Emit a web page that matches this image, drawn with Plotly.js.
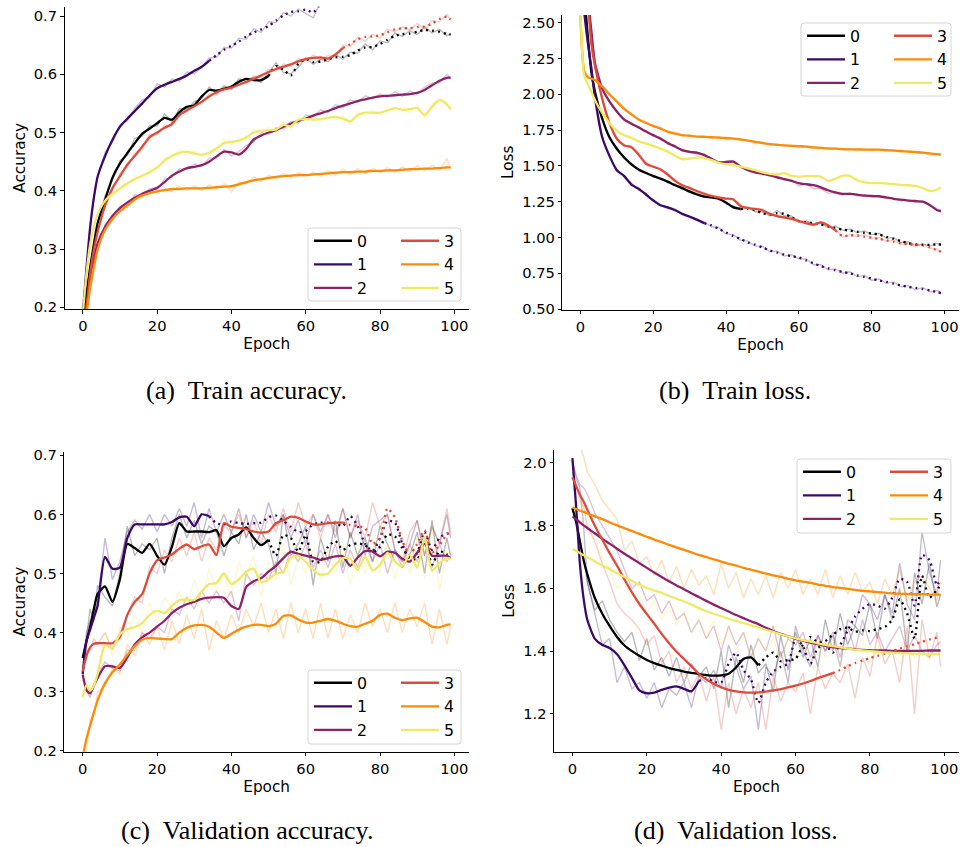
<!DOCTYPE html>
<html><head><meta charset="utf-8">
<script src="https://cdn.plot.ly/plotly-3.0.1.min.js"></script>
<style>html,body{margin:0;padding:0;background:#fff}#chart{width:960px;height:847px}</style>
</head><body><div id="chart"></div>
<script>
// ---------- DATA ----------
const epochs = [0,1,2,3,4,6,8,10,12,14,16,18,20,22,24,26,28,30,32,34,36,38,40,42,44,46,48,50,52,54,56,58,60,62,64,66,68,70,72,74,76,78,80,82,84,86,88,90,92,94,96,98,99];
const runLabels = ['0','1','2','3','4','5'];
const panelCaptions = ['(a)\u00a0\u00a0Train accuracy.','(b)\u00a0\u00a0Train loss.','(c)\u00a0\u00a0Validation accuracy.','(d)\u00a0\u00a0Validation loss.'];
const yTitles = ['Accuracy','Loss','Accuracy','Loss'];
const xTitle = 'Epoch';

// epoch where each run switches from solid to dotted (null = solid throughout)
const dottedFromTrain = [50, 34, null, 70, null, null];
const dottedFromTrainLoss = [44, 34, null, 70, null, null];
const dottedFromVal = [50, 34, null, 70, null, null];

// (a) train accuracy, smoothed
const trainAcc0 = [0.18,0.225,0.27,0.31,0.345, 0.385,0.423,0.447,0.465,0.482,0.498,0.507,0.516,0.525,0.522, 0.535,0.544,0.547,0.562,0.573,0.572,0.575,0.579,0.587,0.592, 0.59,0.59,0.597,0.614,0.608,0.598,0.618,0.626,0.621,0.622, 0.626,0.629,0.63,0.633,0.641,0.646,0.647,0.652,0.659,0.666, 0.669,0.67,0.673,0.676,0.675,0.673,0.669,0.668];
const trainAcc1 = [0.19,0.27,0.34,0.39,0.425, 0.46,0.488,0.51,0.524,0.537,0.55,0.564,0.576,0.582,0.587, 0.592,0.598,0.606,0.613,0.623,0.633,0.642,0.649,0.656,0.665, 0.672,0.677,0.683,0.692,0.701,0.707,0.708,0.711,0.706,0.72, 0.724,0.728,0.733,0.737,0.741,0.745,0.749,0.752,0.756,0.759, 0.762,0.765,0.768,0.771,0.774,0.776,0.779,0.78];
const trainAcc2 = [0.16,0.2,0.255,0.285,0.31, 0.338,0.357,0.37,0.38,0.388,0.395,0.4,0.405,0.415,0.426, 0.433,0.439,0.441,0.444,0.45,0.459,0.467,0.466,0.462,0.472, 0.488,0.495,0.5,0.504,0.51,0.515,0.52,0.524,0.529,0.533, 0.537,0.542,0.546,0.55,0.554,0.557,0.56,0.562,0.563,0.564, 0.565,0.566,0.568,0.573,0.581,0.589,0.594,0.594];
const trainAcc3 = [0.16,0.2,0.26,0.3,0.33, 0.375,0.405,0.425,0.445,0.46,0.476,0.492,0.5,0.508,0.515, 0.53,0.538,0.545,0.553,0.562,0.569,0.574,0.577,0.582,0.587, 0.592,0.598,0.604,0.609,0.613,0.617,0.622,0.626,0.628,0.629, 0.627,0.634,0.645,0.652,0.66,0.664,0.665,0.667,0.672,0.677, 0.679,0.679,0.681,0.682,0.687,0.695,0.699,0.694];
const trainAcc4 = [0.15,0.19,0.235,0.27,0.3, 0.333,0.352,0.365,0.375,0.385,0.392,0.396,0.399,0.401,0.403, 0.403,0.404,0.404,0.404,0.405,0.406,0.407,0.408,0.411,0.415, 0.418,0.42,0.422,0.424,0.425,0.426,0.427,0.427,0.428,0.429, 0.43,0.431,0.432,0.432,0.433,0.433,0.434,0.434,0.435,0.435, 0.436,0.437,0.437,0.438,0.438,0.439,0.44,0.44];
const trainAcc5 = [0.19,0.26,0.31,0.34,0.36, 0.383,0.395,0.404,0.413,0.42,0.426,0.432,0.44,0.452,0.46, 0.465,0.467,0.464,0.462,0.465,0.473,0.482,0.484,0.486,0.492, 0.5,0.503,0.504,0.505,0.513,0.511,0.522,0.523,0.522,0.523, 0.525,0.527,0.524,0.519,0.53,0.534,0.534,0.534,0.538,0.542, 0.539,0.54,0.542,0.53,0.544,0.556,0.548,0.54];
// (a) train accuracy, raw
const trainAccRaw0 = [0.18,0.225,0.27,0.31,0.345, 0.392,0.418,0.452,0.461,0.49,0.494,0.512,0.511,0.532,0.518, 0.541,0.539,0.553,0.558,0.578,0.567,0.58,0.575,0.592,0.588, 0.595,0.586,0.603,0.62,0.603,0.601,0.612,0.628,0.617,0.626, 0.621,0.634,0.626,0.638,0.636,0.652,0.642,0.657,0.654,0.671, 0.665,0.675,0.668,0.681,0.671,0.677,0.666,0.67];
const trainAccRaw1 = [0.19,0.27,0.34,0.39,0.425, 0.466,0.483,0.514,0.52,0.542,0.556,0.56,0.584,0.578,0.592, 0.588,0.604,0.601,0.612,0.628,0.629,0.646,0.645,0.662,0.66, 0.678,0.672,0.69,0.689,0.706,0.7,0.712,0.705,0.697,0.724, 0.72,0.732,0.729,0.741,0.737,0.75,0.746,0.756,0.752,0.763, 0.759,0.769,0.765,0.775,0.771,0.78,0.776,0.78];
const trainAccRaw2 = [0.16,0.2,0.255,0.285,0.31, 0.343,0.353,0.374,0.377,0.393,0.391,0.404,0.402,0.42,0.423, 0.438,0.436,0.446,0.442,0.456,0.456,0.471,0.46,0.467,0.478, 0.484,0.499,0.497,0.508,0.506,0.519,0.516,0.53,0.527,0.539, 0.534,0.548,0.543,0.556,0.552,0.563,0.558,0.566,0.561,0.57, 0.562,0.571,0.566,0.578,0.585,0.585,0.6,0.593];
const trainAccRaw3 = [0.16,0.2,0.26,0.3,0.33, 0.38,0.401,0.43,0.441,0.465,0.472,0.497,0.496,0.513,0.511, 0.534,0.535,0.55,0.549,0.567,0.565,0.578,0.573,0.587,0.584, 0.597,0.594,0.609,0.605,0.618,0.613,0.627,0.623,0.633,0.625, 0.632,0.631,0.65,0.648,0.664,0.657,0.669,0.662,0.677,0.673, 0.682,0.676,0.687,0.678,0.692,0.69,0.703,0.694];
const trainAccRaw4 = [0.15,0.19,0.235,0.27,0.3, 0.338,0.349,0.37,0.372,0.39,0.389,0.401,0.396,0.404,0.399, 0.408,0.4,0.409,0.4,0.41,0.403,0.412,0.398,0.415,0.412, 0.424,0.416,0.427,0.42,0.43,0.423,0.431,0.425,0.432,0.425, 0.435,0.427,0.437,0.428,0.438,0.43,0.439,0.43,0.44,0.432, 0.441,0.433,0.443,0.434,0.444,0.435,0.455,0.437];
const trainAccRaw5 = [0.19,0.26,0.31,0.34,0.36, 0.389,0.391,0.41,0.409,0.426,0.421,0.438,0.434,0.458,0.455, 0.471,0.462,0.469,0.457,0.47,0.468,0.488,0.478,0.492,0.487, 0.506,0.498,0.51,0.5,0.519,0.506,0.528,0.518,0.528,0.518, 0.531,0.522,0.529,0.514,0.536,0.529,0.539,0.529,0.544,0.537, 0.545,0.534,0.548,0.525,0.55,0.551,0.553,0.536];

// (b) train loss, smoothed
const trainLoss0 = [3.3,2.75,2.42,2.16,2.02, 1.83,1.7,1.62,1.56,1.51,1.475,1.45,1.43,1.41,1.39, 1.365,1.345,1.32,1.3,1.285,1.28,1.27,1.245,1.21,1.2, 1.2,1.19,1.17,1.16,1.17,1.165,1.14,1.115,1.105,1.1, 1.09,1.08,1.065,1.055,1.048,1.04,1.032,1.028,1.02,1.005, 0.99,0.975,0.96,0.952,0.948,0.948,0.952,0.95];
const trainLoss1 = [3.3,2.6,2.37,2.19,1.98, 1.7,1.57,1.47,1.43,1.37,1.34,1.3,1.26,1.225,1.21, 1.19,1.165,1.145,1.125,1.1,1.085,1.06,1.035,1.01,0.99, 0.965,0.95,0.93,0.91,0.895,0.88,0.87,0.86,0.84,0.82, 0.8,0.785,0.77,0.76,0.75,0.735,0.725,0.712,0.7,0.69, 0.678,0.665,0.655,0.648,0.64,0.63,0.618,0.612];
const trainLoss2 = [3.6,3.1,2.7,2.45,2.22, 2.04,1.95,1.88,1.825,1.795,1.77,1.74,1.715,1.69,1.66, 1.635,1.61,1.598,1.592,1.575,1.55,1.525,1.528,1.53,1.495, 1.47,1.455,1.445,1.435,1.42,1.408,1.395,1.38,1.372,1.365, 1.35,1.33,1.315,1.305,1.305,1.3,1.292,1.29,1.288,1.28, 1.27,1.265,1.258,1.255,1.25,1.225,1.19,1.185];
const trainLoss3 = [3.8,3.2,2.7,2.36,2.2, 1.97,1.8,1.69,1.645,1.63,1.58,1.515,1.495,1.475,1.44, 1.395,1.365,1.345,1.325,1.305,1.29,1.278,1.272,1.265,1.22, 1.205,1.2,1.19,1.165,1.15,1.14,1.13,1.115,1.1,1.09, 1.105,1.085,1.05,1.01,1.015,1.015,1.005,0.998,0.99,0.98, 0.97,0.96,0.952,0.95,0.945,0.93,0.91,0.9];
const trainLoss4 = [2.55,2.17,2.12,2.11,2.1, 2.055,2.0,1.95,1.9,1.86,1.825,1.8,1.78,1.76,1.74, 1.725,1.715,1.71,1.705,1.703,1.7,1.698,1.695,1.69,1.685, 1.677,1.668,1.66,1.652,1.647,1.643,1.64,1.638,1.634,1.63, 1.626,1.622,1.62,1.617,1.615,1.615,1.614,1.614,1.613,1.61, 1.607,1.604,1.6,1.597,1.592,1.587,1.582,1.578];
const trainLoss5 = [2.6,2.14,2.07,2.02,1.96, 1.87,1.8,1.745,1.715,1.695,1.672,1.655,1.64,1.62,1.6, 1.57,1.548,1.55,1.56,1.555,1.54,1.522,1.512,1.505,1.495, 1.483,1.47,1.455,1.445,1.44,1.45,1.43,1.425,1.428,1.43, 1.425,1.395,1.41,1.432,1.43,1.4,1.385,1.38,1.38,1.378, 1.372,1.368,1.365,1.36,1.345,1.325,1.335,1.35];
// (b) train loss, raw
const trainLossRaw0 = [3.3,2.75,2.42,2.16,2.02, 1.84,1.69,1.63,1.55,1.52,1.465,1.46,1.42,1.42,1.38, 1.375,1.335,1.33,1.31,1.295,1.275,1.28,1.235,1.22,1.19, 1.21,1.18,1.18,1.15,1.19,1.15,1.15,1.105,1.115,1.095, 1.1,1.07,1.08,1.05,1.06,1.035,1.045,1.02,1.03,0.995, 1.0,0.965,0.97,0.945,0.955,0.94,0.96,0.945];
const trainLossRaw1 = [3.3,2.6,2.37,2.19,1.98, 1.71,1.56,1.48,1.42,1.38,1.33,1.31,1.25,1.23,1.2, 1.2,1.16,1.15,1.12,1.11,1.075,1.07,1.025,1.02,0.98, 0.975,0.94,0.94,0.9,0.905,0.87,0.88,0.85,0.85,0.81, 0.81,0.775,0.78,0.75,0.76,0.725,0.735,0.7,0.71,0.68, 0.69,0.655,0.665,0.635,0.65,0.62,0.63,0.61];
const trainLossRaw2 = [3.6,3.1,2.7,2.45,2.22, 2.05,1.94,1.89,1.815,1.805,1.76,1.75,1.705,1.7,1.65, 1.645,1.6,1.605,1.58,1.585,1.545,1.53,1.515,1.535,1.49, 1.48,1.45,1.45,1.425,1.43,1.4,1.4,1.36,1.375,1.34, 1.34,1.31,1.31,1.295,1.31,1.29,1.3,1.28,1.29,1.27, 1.275,1.255,1.262,1.245,1.255,1.22,1.2,1.175];
const trainLossRaw3 = [3.8,3.2,2.7,2.36,2.2, 1.98,1.79,1.7,1.635,1.64,1.57,1.525,1.49,1.485,1.43, 1.405,1.355,1.355,1.32,1.315,1.285,1.29,1.265,1.275,1.21, 1.215,1.195,1.2,1.155,1.16,1.135,1.14,1.105,1.12,1.08, 1.11,1.075,1.06,1.0,1.02,1.005,1.02,0.995,1.0,0.975, 0.98,0.95,0.96,0.935,0.955,0.925,0.92,0.9];
const trainLossRaw4 = [2.55,2.17,2.12,2.11,2.1, 2.06,1.99,1.955,1.89,1.865,1.815,1.81,1.77,1.77,1.73, 1.735,1.705,1.72,1.7,1.71,1.69,1.705,1.685,1.695,1.675, 1.68,1.655,1.665,1.645,1.655,1.635,1.645,1.625,1.64,1.62, 1.63,1.615,1.625,1.61,1.62,1.605,1.62,1.605,1.615,1.6, 1.615,1.595,1.605,1.59,1.595,1.575,1.585,1.575];
const trainLossRaw5 = [2.6,2.14,2.07,2.02,1.96, 1.88,1.79,1.755,1.71,1.705,1.665,1.665,1.63,1.63,1.59, 1.58,1.54,1.555,1.55,1.565,1.53,1.53,1.5,1.51,1.485, 1.49,1.46,1.465,1.435,1.455,1.425,1.43,1.42,1.435,1.415, 1.43,1.39,1.415,1.42,1.435,1.39,1.405,1.375,1.385,1.37, 1.38,1.36,1.37,1.355,1.35,1.32,1.33,1.35];

// (c) validation accuracy, smoothed
const valAcc0 = [0.357,0.385,0.41,0.44,0.465, 0.478,0.452,0.49,0.55,0.543,0.535,0.55,0.53,0.515,0.545, 0.585,0.571,0.571,0.571,0.57,0.573,0.546,0.56,0.566,0.578, 0.56,0.548,0.557,0.53,0.565,0.56,0.537,0.565,0.52,0.52, 0.545,0.555,0.54,0.548,0.551,0.548,0.535,0.545,0.566,0.563, 0.543,0.527,0.523,0.56,0.515,0.538,0.532,0.529];
const valAcc1 = [0.33,0.385,0.405,0.425,0.445, 0.528,0.508,0.51,0.56,0.583,0.583,0.583,0.583,0.583,0.587, 0.595,0.596,0.58,0.6,0.597,0.585,0.583,0.588,0.585,0.584, 0.585,0.586,0.595,0.598,0.589,0.579,0.57,0.572,0.583,0.586, 0.586,0.585,0.58,0.597,0.58,0.55,0.538,0.56,0.589,0.586, 0.55,0.523,0.535,0.57,0.54,0.56,0.568,0.565];
const valAcc2 = [0.329,0.303,0.297,0.31,0.323, 0.343,0.343,0.34,0.358,0.38,0.392,0.4,0.41,0.42,0.433, 0.442,0.448,0.452,0.457,0.459,0.46,0.459,0.445,0.44,0.477, 0.487,0.492,0.503,0.513,0.526,0.537,0.533,0.53,0.527,0.523, 0.526,0.529,0.529,0.513,0.527,0.538,0.537,0.529,0.537,0.535, 0.525,0.52,0.535,0.55,0.53,0.53,0.53,0.526];
const valAcc3 = [0.334,0.36,0.375,0.381,0.382, 0.382,0.382,0.392,0.43,0.452,0.465,0.5,0.522,0.527,0.532, 0.542,0.549,0.541,0.546,0.549,0.531,0.585,0.579,0.577,0.575, 0.571,0.569,0.571,0.585,0.59,0.596,0.594,0.588,0.583,0.583, 0.585,0.586,0.586,0.582,0.58,0.577,0.55,0.56,0.61,0.595, 0.555,0.532,0.55,0.573,0.535,0.548,0.566,0.569];
const valAcc4 = [0.19,0.22,0.243,0.265,0.285, 0.314,0.333,0.346,0.362,0.377,0.388,0.391,0.39,0.389,0.389, 0.4,0.408,0.412,0.413,0.41,0.4,0.391,0.398,0.405,0.41, 0.413,0.413,0.411,0.415,0.428,0.429,0.422,0.417,0.417,0.42, 0.423,0.42,0.415,0.411,0.41,0.415,0.42,0.43,0.432,0.425, 0.421,0.424,0.425,0.418,0.41,0.409,0.413,0.414];
const valAcc5 = [0.291,0.311,0.302,0.31,0.33, 0.378,0.374,0.397,0.406,0.409,0.416,0.43,0.437,0.433,0.445, 0.455,0.456,0.455,0.47,0.482,0.484,0.5,0.482,0.49,0.503, 0.508,0.485,0.49,0.5,0.503,0.527,0.53,0.52,0.506,0.498, 0.5,0.515,0.526,0.525,0.506,0.529,0.505,0.515,0.535,0.52, 0.512,0.532,0.51,0.562,0.505,0.518,0.525,0.526];
// (c) validation accuracy, raw
const valAccRaw0 = [0.357,0.39,0.44,0.42,0.48, 0.46,0.445,0.5,0.58,0.53,0.55,0.54,0.56,0.5,0.56, 0.6,0.56,0.59,0.55,0.58,0.57,0.53,0.57,0.55,0.6, 0.54,0.57,0.55,0.5,0.6,0.53,0.55,0.58,0.48,0.56, 0.52,0.59,0.51,0.57,0.53,0.56,0.52,0.58,0.55,0.52, 0.51,0.53,0.57,0.5,0.59,0.5,0.56,0.53];
const valAccRaw1 = [0.33,0.4,0.42,0.43,0.45, 0.56,0.49,0.52,0.57,0.59,0.575,0.6,0.57,0.6,0.58, 0.61,0.58,0.62,0.56,0.61,0.57,0.6,0.57,0.61,0.56, 0.6,0.57,0.62,0.58,0.6,0.56,0.59,0.55,0.6,0.57, 0.6,0.56,0.61,0.56,0.6,0.53,0.58,0.59,0.6,0.54, 0.52,0.55,0.59,0.53,0.58,0.55,0.6,0.56];
const valAccRaw2 = [0.329,0.3,0.29,0.31,0.33, 0.35,0.34,0.335,0.37,0.37,0.4,0.39,0.41,0.4,0.44, 0.43,0.46,0.44,0.47,0.45,0.47,0.45,0.47,0.42,0.5, 0.48,0.5,0.49,0.52,0.5,0.54,0.52,0.55,0.51,0.54, 0.51,0.55,0.5,0.54,0.51,0.55,0.52,0.55,0.5,0.54, 0.51,0.55,0.52,0.56,0.51,0.55,0.52,0.53];
const valAccRaw3 = [0.334,0.37,0.37,0.39,0.38, 0.4,0.37,0.4,0.43,0.46,0.45,0.51,0.5,0.54,0.52, 0.56,0.53,0.57,0.52,0.56,0.54,0.58,0.57,0.6,0.56, 0.59,0.55,0.6,0.57,0.61,0.57,0.62,0.58,0.6,0.56, 0.6,0.57,0.61,0.56,0.59,0.56,0.62,0.58,0.6,0.54, 0.52,0.57,0.59,0.53,0.58,0.55,0.61,0.57];
const valAccRaw4 = [0.19,0.2,0.25,0.26,0.3, 0.31,0.34,0.33,0.38,0.36,0.4,0.38,0.41,0.37,0.42, 0.38,0.43,0.39,0.44,0.37,0.42,0.39,0.43,0.4,0.44, 0.41,0.45,0.4,0.44,0.39,0.45,0.4,0.44,0.39,0.45, 0.39,0.44,0.39,0.43,0.4,0.45,0.41,0.44,0.4,0.45, 0.4,0.44,0.41,0.45,0.38,0.44,0.38,0.41];
const valAccRaw5 = [0.291,0.32,0.3,0.31,0.33, 0.4,0.36,0.41,0.39,0.43,0.4,0.45,0.42,0.46,0.44, 0.47,0.44,0.49,0.45,0.51,0.47,0.5,0.46,0.52,0.49, 0.53,0.46,0.52,0.49,0.55,0.48,0.53,0.5,0.54,0.49, 0.54,0.5,0.55,0.48,0.54,0.5,0.56,0.5,0.55,0.49, 0.54,0.5,0.56,0.49,0.58,0.47,0.54,0.52];

// (d) validation loss, smoothed
const valLoss0 = [1.855,1.81,1.75,1.69,1.645, 1.57,1.52,1.48,1.445,1.418,1.4,1.385,1.372,1.362,1.354, 1.346,1.34,1.335,1.331,1.327,1.324,1.322,1.323,1.328,1.348, 1.375,1.38,1.355,1.38,1.395,1.368,1.372,1.375,1.42,1.445, 1.428,1.432,1.452,1.47,1.475,1.462,1.466,1.464,1.47,1.477, 1.5,1.565,1.52,1.44,1.64,1.57,1.595,1.61];
const valLoss1 = [2.014,1.86,1.68,1.568,1.5, 1.44,1.42,1.41,1.39,1.355,1.315,1.275,1.266,1.268,1.277, 1.284,1.288,1.28,1.272,1.305,1.315,1.303,1.3,1.36,1.395, 1.34,1.31,1.235,1.3,1.335,1.35,1.36,1.44,1.415,1.36, 1.41,1.42,1.395,1.42,1.465,1.51,1.535,1.55,1.545,1.535, 1.57,1.63,1.62,1.545,1.706,1.69,1.61,1.63];
const valLoss2 = [1.828,1.82,1.81,1.8,1.792, 1.775,1.758,1.742,1.726,1.71,1.695,1.68,1.665,1.65,1.636, 1.622,1.609,1.597,1.584,1.572,1.56,1.548,1.537,1.526,1.515, 1.505,1.495,1.486,1.474,1.464,1.455,1.447,1.44,1.433,1.427, 1.422,1.417,1.413,1.41,1.408,1.406,1.404,1.403,1.402,1.402, 1.401,1.401,1.401,1.401,1.401,1.402,1.402,1.402];
const valLoss3 = [1.953,1.925,1.898,1.876,1.85, 1.8,1.755,1.712,1.672,1.628,1.587,1.55,1.518,1.487,1.455, 1.425,1.398,1.375,1.352,1.328,1.31,1.296,1.285,1.277,1.272, 1.269,1.268,1.269,1.271,1.275,1.279,1.285,1.29,1.297,1.305, 1.314,1.322,1.33,1.34,1.352,1.362,1.37,1.378,1.385,1.392, 1.4,1.408,1.415,1.422,1.43,1.437,1.443,1.446];
const valLoss4 = [1.857,1.852,1.847,1.843,1.838, 1.829,1.82,1.81,1.8,1.791,1.782,1.773,1.764,1.755,1.747, 1.738,1.73,1.722,1.714,1.706,1.699,1.692,1.685,1.678,1.672, 1.665,1.659,1.653,1.647,1.641,1.636,1.63,1.625,1.621,1.617, 1.612,1.608,1.604,1.601,1.598,1.595,1.592,1.59,1.588,1.586, 1.584,1.583,1.582,1.581,1.581,1.58,1.58,1.58];
const valLoss5 = [1.725,1.719,1.712,1.705,1.699, 1.686,1.673,1.661,1.648,1.636,1.624,1.612,1.601,1.593,1.585, 1.576,1.567,1.558,1.548,1.537,1.527,1.519,1.511,1.503,1.496, 1.489,1.482,1.475,1.468,1.461,1.454,1.447,1.441,1.435,1.43, 1.425,1.42,1.416,1.412,1.408,1.405,1.402,1.4,1.398,1.396, 1.395,1.394,1.393,1.392,1.391,1.39,1.39,1.39];
// (d) validation loss, raw
const valLossRaw0 = [1.85,1.83,1.75,1.7,1.62, 1.53,1.56,1.5,1.46,1.43,1.46,1.37,1.44,1.34,1.38, 1.32,1.38,1.3,1.36,1.32,1.35,1.28,1.4,1.22,1.38, 1.3,1.42,1.33,1.36,1.27,1.45,1.34,1.46,1.38,1.44, 1.35,1.5,1.4,1.52,1.42,1.48,1.45,1.55,1.44,1.58, 1.5,1.6,1.4,1.65,1.55,1.68,1.54,1.58];
const valLossRaw1 = [2.01,1.95,1.92,1.8,1.62, 1.52,1.42,1.44,1.3,1.35,1.28,1.3,1.25,1.3,1.22, 1.28,1.26,1.3,1.22,1.32,1.3,1.34,1.28,1.42,1.35, 1.28,1.32,1.15,1.35,1.32,1.4,1.3,1.48,1.4,1.35, 1.45,1.4,1.45,1.35,1.5,1.48,1.58,1.55,1.5,1.58, 1.52,1.68,1.55,1.5,1.78,1.65,1.58,1.69];
const valLossRaw2 = [2.0,1.96,1.93,1.92,1.9, 1.84,1.8,1.76,1.72,1.66,1.6,1.62,1.56,1.58,1.52, 1.56,1.5,1.52,1.46,1.5,1.44,1.48,1.4,1.48,1.42, 1.46,1.38,1.44,1.4,1.48,1.38,1.44,1.42,1.46,1.38, 1.45,1.4,1.46,1.38,1.48,1.4,1.5,1.42,1.46,1.4, 1.44,1.48,1.4,1.45,1.4,1.38,1.42,1.43];
const valLossRaw3 = [1.97,1.93,1.88,1.86,1.8, 1.75,1.68,1.62,1.55,1.52,1.5,1.47,1.42,1.45,1.36, 1.4,1.3,1.35,1.28,1.33,1.24,1.32,1.15,1.3,1.2, 1.28,1.22,1.3,1.15,1.32,1.24,1.3,1.27,1.33,1.2, 1.35,1.28,1.33,1.3,1.36,1.25,1.38,1.32,1.45,1.36, 1.4,1.3,1.48,1.2,1.5,1.38,1.46,1.35];
const valLossRaw4 = [2.1,2.08,2.05,2.02,1.97, 1.93,1.88,1.85,1.82,1.72,1.75,1.68,1.7,1.64,1.69, 1.62,1.67,1.6,1.66,1.61,1.64,1.58,1.68,1.6,1.65, 1.57,1.63,1.58,1.64,1.57,1.65,1.6,1.66,1.58,1.63, 1.58,1.66,1.57,1.64,1.58,1.65,1.59,1.62,1.55,1.63, 1.58,1.66,1.56,1.62,1.64,1.6,1.56,1.62];
const valLossRaw5 = [1.92,1.9,1.88,1.85,1.8, 1.75,1.7,1.66,1.6,1.62,1.56,1.58,1.52,1.56,1.5, 1.54,1.48,1.53,1.46,1.5,1.44,1.5,1.42,1.47,1.4, 1.46,1.38,1.45,1.4,1.44,1.37,1.45,1.38,1.43,1.36, 1.42,1.38,1.44,1.35,1.42,1.4,1.44,1.36,1.42,1.38, 1.4,1.36,1.42,1.38,1.4,1.37,1.4,1.39];

// ---------- STYLE / LAYOUT ----------
const runColors = ['#000000','#3b0a66','#8c2369','#dc4c3c','#fb8b08','#f0e968'];
const W = 960, H = 847;
const fx = p => p / W, fy = p => 1 - p / H;

const panels = [
  {smooth:[trainAcc0,trainAcc1,trainAcc2,trainAcc3,trainAcc4,trainAcc5], raw:[trainAccRaw0,trainAccRaw1,trainAccRaw2,trainAccRaw3,trainAccRaw4,trainAccRaw5], dotted:dottedFromTrain,
   box:{l:64.5,r:469,t:6.7,b:309}, yr:[0.197,0.716], dtick:0.1, fmt:'.1f', leg:{l:308,r:461,t:228,b:301}, cap:{x:247,y:390}},
  {smooth:[trainLoss0,trainLoss1,trainLoss2,trainLoss3,trainLoss4,trainLoss5], raw:[trainLossRaw0,trainLossRaw1,trainLossRaw2,trainLossRaw3,trainLossRaw4,trainLossRaw5], dotted:dottedFromTrainLoss,
   box:{l:562.3,r:959,t:15,b:309.5}, yr:[0.497,2.554], dtick:0.25, fmt:'.2f', leg:{l:801,r:951,t:23,b:96}, cap:{x:735,y:390}},
  {smooth:[valAcc0,valAcc1,valAcc2,valAcc3,valAcc4,valAcc5], raw:[valAccRaw0,valAccRaw1,valAccRaw2,valAccRaw3,valAccRaw4,valAccRaw5], dotted:dottedFromVal,
   box:{l:64.3,r:469,t:451.7,b:751.7}, yr:[0.1985,0.706], dtick:0.1, fmt:'.1f', leg:{l:308,r:461,t:670,b:744}, cap:{x:247,y:830}},
  {smooth:[valLoss0,valLoss1,valLoss2,valLoss3,valLoss4,valLoss5], raw:[valLossRaw0,valLossRaw1,valLossRaw2,valLossRaw3,valLossRaw4,valLossRaw5], dotted:dottedFromVal,
   box:{l:554,r:959,t:450,b:751.7}, yr:[1.08,2.04], dtick:0.2, fmt:'.1f', leg:{l:797,r:951,t:459,b:533}, cap:{x:736,y:830}}
];

const traces = [];
const layout = {
  width: W, height: H, margin:{l:0,r:0,t:0,b:0,pad:0},
  paper_bgcolor:'#ffffff', plot_bgcolor:'rgba(0,0,0,0)',
  font:{family:'DejaVu Sans, sans-serif', size:14.7, color:'#000'},
  showlegend:true, shapes:[], annotations:[]
};
const tickFont = {family:'DejaVu Sans, sans-serif', size:14.7, color:'#000'};
const titleFont = {family:'DejaVu Sans, sans-serif', size:15.3, color:'#000'};

function legendName(i){ return i === 1 ? 'legend' : 'legend' + i; }

panels.forEach((p, pi) => {
  const n = pi + 1;
  const xa = n === 1 ? 'x' : 'x' + n, ya = n === 1 ? 'y' : 'y' + n;
  const xk = n === 1 ? 'xaxis' : 'xaxis' + n, yk = n === 1 ? 'yaxis' : 'yaxis' + n;
  layout[xk] = {domain:[fx(p.box.l), fx(p.box.r)], anchor:ya, range:[-4.95,103.95], tick0:0, dtick:20,
    ticks:'outside', ticklen:3.5, tickwidth:1, tickcolor:'#000', showline:true, linecolor:'#000', linewidth:1,
    showgrid:false, zeroline:false, tickfont:tickFont, automargin:false,
    title:{text:xTitle, font:titleFont, standoff:5}};
  layout[yk] = {domain:[fy(p.box.b), fy(p.box.t)], anchor:xa, range:p.yr, tick0:0, dtick:p.dtick, tickformat:p.fmt,
    ticks:'outside', ticklen:3.5, tickwidth:1, tickcolor:'#000', showline:true, linecolor:'#000', linewidth:1,
    showgrid:false, zeroline:false, tickfont:tickFont, automargin:false,
    title:{text:yTitles[pi], font:titleFont, standoff:4}};

  // raw (faint) lines
  p.raw.forEach((r, s) => {
    traces.push({x:epochs.slice(0, r.length), y:r, xaxis:xa, yaxis:ya, type:'scatter', mode:'lines',
      line:{color:runColors[s], width:1.4}, opacity:0.28, showlegend:false, hoverinfo:'skip'});
  });
  // smoothed lines
  p.smooth.forEach((sm, s) => {
    const cut = p.dotted[s];
    const idx = cut == null ? epochs.length - 1 : epochs.indexOf(cut);
    const col = s < 3 ? 0 : 1;
    traces.push({x:epochs.slice(0, idx + 1), y:sm.slice(0, idx + 1), xaxis:xa, yaxis:ya, type:'scatter', mode:'lines',
      line:{color:runColors[s], width:2.3, shape:'spline', smoothing:0.6}, name:runLabels[s],
      legend:legendName(pi * 2 + col + 1), showlegend:true});
    if (cut != null) {
      traces.push({x:epochs.slice(idx), y:sm.slice(idx), xaxis:xa, yaxis:ya, type:'scatter', mode:'lines',
        line:{color:runColors[s], width:2.3, dash:'2px,4px', shape:'spline', smoothing:0.6}, showlegend:false});
    }
  });

  // legend frame
  const L = p.leg, rr = 3;
  const path = `M ${fx(L.l+rr)} ${fy(L.t)} L ${fx(L.r-rr)} ${fy(L.t)} Q ${fx(L.r)} ${fy(L.t)} ${fx(L.r)} ${fy(L.t+rr)} ` +
    `L ${fx(L.r)} ${fy(L.b-rr)} Q ${fx(L.r)} ${fy(L.b)} ${fx(L.r-rr)} ${fy(L.b)} L ${fx(L.l+rr)} ${fy(L.b)} ` +
    `Q ${fx(L.l)} ${fy(L.b)} ${fx(L.l)} ${fy(L.b-rr)} L ${fx(L.l)} ${fy(L.t+rr)} Q ${fx(L.l)} ${fy(L.t)} ${fx(L.l+rr)} ${fy(L.t)} Z`;
  layout.shapes.push({type:'path', xref:'paper', yref:'paper', path:path, layer:'above',
    fillcolor:'rgba(255,255,255,0.8)', line:{color:'#d4d4d4', width:1}});

  // two legend columns
  [0, 1].forEach(col => {
    layout[legendName(pi * 2 + col + 1)] = {
      x: fx(L.l + 1 + col * 87), y: fy(L.t - 4), xanchor:'left', yanchor:'top', xref:'paper', yref:'paper',
      bgcolor:'rgba(0,0,0,0)', borderwidth:0, font:{family:'DejaVu Sans, sans-serif', size:15.8, color:'#000'},
      itemwidth:38, tracegroupgap:0, traceorder:'normal', orientation:'v'
    };
  });

  // caption
  layout.annotations.push({text:panelCaptions[pi], xref:'paper', yref:'paper', x:fx(p.cap.x), y:fy(p.cap.y),
    xanchor:'center', yanchor:'middle', showarrow:false, font:{family:'Liberation Serif, serif', size:26, color:'#000'}});
});

Plotly.newPlot('chart', traces, layout, {staticPlot:true, displayModeBar:false});
</script>
</body></html>
